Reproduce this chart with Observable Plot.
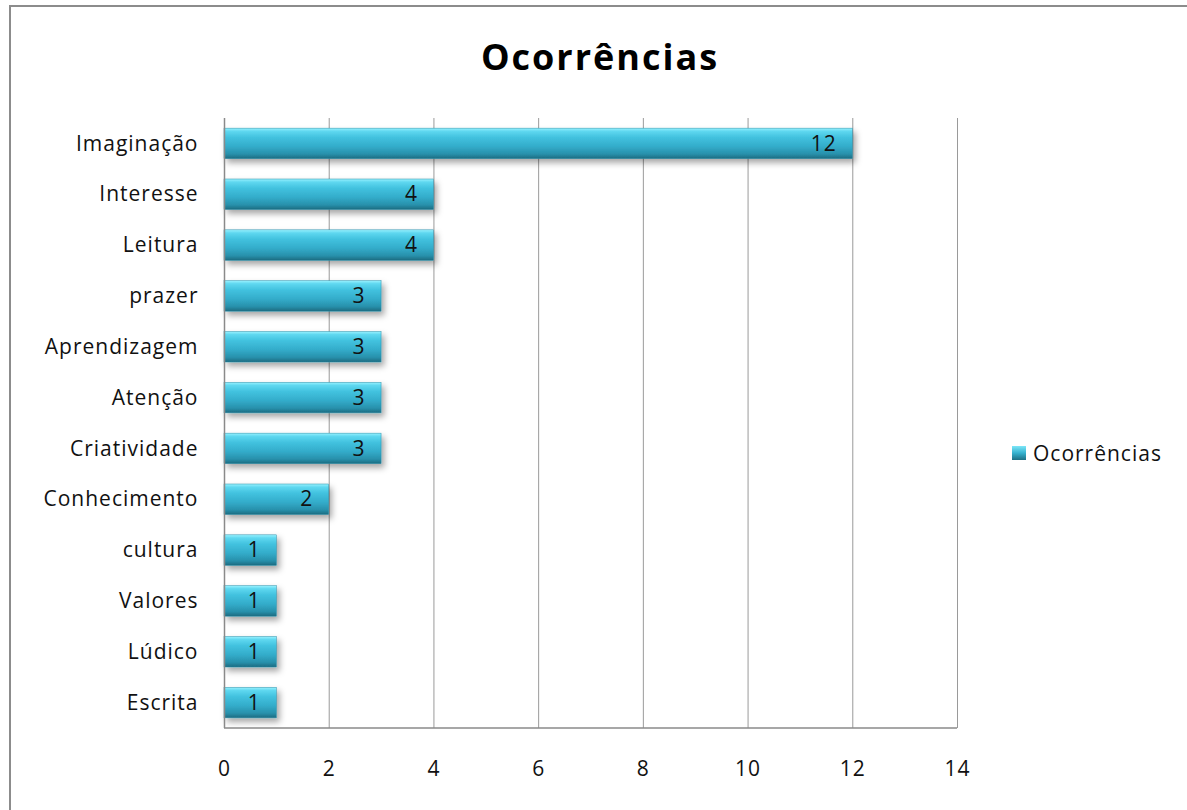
<!DOCTYPE html>
<html>
<head>
<meta charset="utf-8">
<script src="https://cdn.jsdelivr.net/npm/d3@7"></script>
<script src="https://cdn.jsdelivr.net/npm/@observablehq/plot@0.6"></script>
<style>
  html, body { margin: 0; padding: 0; background: #fff; overflow: hidden; }
  #wrap { position: relative; width: 1187px; height: 810px; font-family: "Open Sans", sans-serif; }
  #frame { position: absolute; left: 9px; top: 5px; width: 1200px; height: 830px; border: 2px solid #8c8c8c; box-sizing: border-box; }
  #title { position: absolute; left: 0; width: 1200px; top: 32px; text-align: center; font-weight: bold; font-size: 36px; line-height: 50px; letter-spacing: 2px; color: #000; }
  #legend { position: absolute; left: 1012px; top: 439px; font-size: 21px; line-height: 28px; letter-spacing: 1px; color: #111; display: flex; align-items: center; }
  #legend .sw { width: 14px; height: 14px; margin-right: 7px; background: linear-gradient(#7de6f8, #35b2cf 50%, #1d6f84); }
  #chart { position: absolute; left: 0; top: 0; }
  #chart svg text { letter-spacing: 1px; }
</style>
</head>
<body>
<div id="wrap">
  <div id="frame"></div>
  <div id="title">Ocorrências</div>
  <div id="chart"></div>
  <div id="legend"><div class="sw"></div><span>Ocorrências</span></div>
</div>
<script>
const categories = ["Imaginação", "Interesse", "Leitura", "prazer", "Aprendizagem", "Atenção", "Criatividade", "Conhecimento", "cultura", "Valores", "Lúdico", "Escrita"];
const values = [12, 4, 4, 3, 3, 3, 3, 2, 1, 1, 1, 1];
const xTicks = [0, 2, 4, 6, 8, 10, 12, 14];

const data = categories.map((c, i) => ({category: c, value: values[i]}));

const plot = Plot.plot({
  width: 1187,
  height: 810,
  marginLeft: 224,
  marginRight: 230,
  marginTop: 118,
  marginBottom: 82,
  style: {fontFamily: "'Open Sans', sans-serif", fontSize: "21px", color: "#111", background: "transparent"},
  x: {domain: [0, 14], ticks: xTicks, label: null, tickSize: 0, tickPadding: 33},
  y: {domain: categories, label: null, tickSize: 0, tickPadding: 26, paddingInner: 0.4, paddingOuter: 0.2, round: false},
  marks: [
    Plot.gridX(xTicks, {stroke: "#9a9a9a", strokeOpacity: 1, strokeWidth: 1}),
    Plot.barX(data, {x: "value", y: "category", fill: "url(#barGrad)", stroke: "#2a8ea8", strokeWidth: 0.5}),
    Plot.ruleX([0], {stroke: "#8a8a8a", strokeWidth: 1.5}),
    Plot.text(data, {x: "value", y: "category", text: d => String(d.value), textAnchor: "end", dx: -16, fill: "#111", fontSize: 21}),
    Plot.axisX({ticks: xTicks, tickSize: 0, tickPadding: 33, fontSize: 21}),
    Plot.axisY({tickSize: 0, tickPadding: 26, fontSize: 21})
  ]
});

// gradient + shadow defs
const svg = d3.select(plot);
const defs = svg.insert("defs", ":first-child");
const g = defs.append("linearGradient").attr("id", "barGrad").attr("x1", 0).attr("y1", 0).attr("x2", 0).attr("y2", 1);
[[0, "#9af2ff"], [0.1, "#5fd8f0"], [0.3, "#42c2df"], [0.6, "#33acca"], [0.85, "#2890ab"], [1, "#1c6b80"]].forEach(([o, c]) =>
  g.append("stop").attr("offset", o).attr("stop-color", c));
const f = defs.append("filter").attr("id", "shadow").attr("x", "-10%").attr("y", "-30%").attr("width", "130%").attr("height", "180%");
f.append("feDropShadow").attr("dx", 3).attr("dy", 4).attr("stdDeviation", 3).attr("flood-color", "#000").attr("flood-opacity", 0.35);
svg.selectAll("g[fill='url(#barGrad)']").attr("filter", "url(#shadow)");

// bottom axis line
svg.append("line").attr("x1", 224).attr("x2", 957).attr("y1", 728).attr("y2", 728).attr("stroke", "#8a8a8a").attr("stroke-width", 1.5);

document.getElementById("chart").appendChild(plot);
</script>
</body>
</html>
